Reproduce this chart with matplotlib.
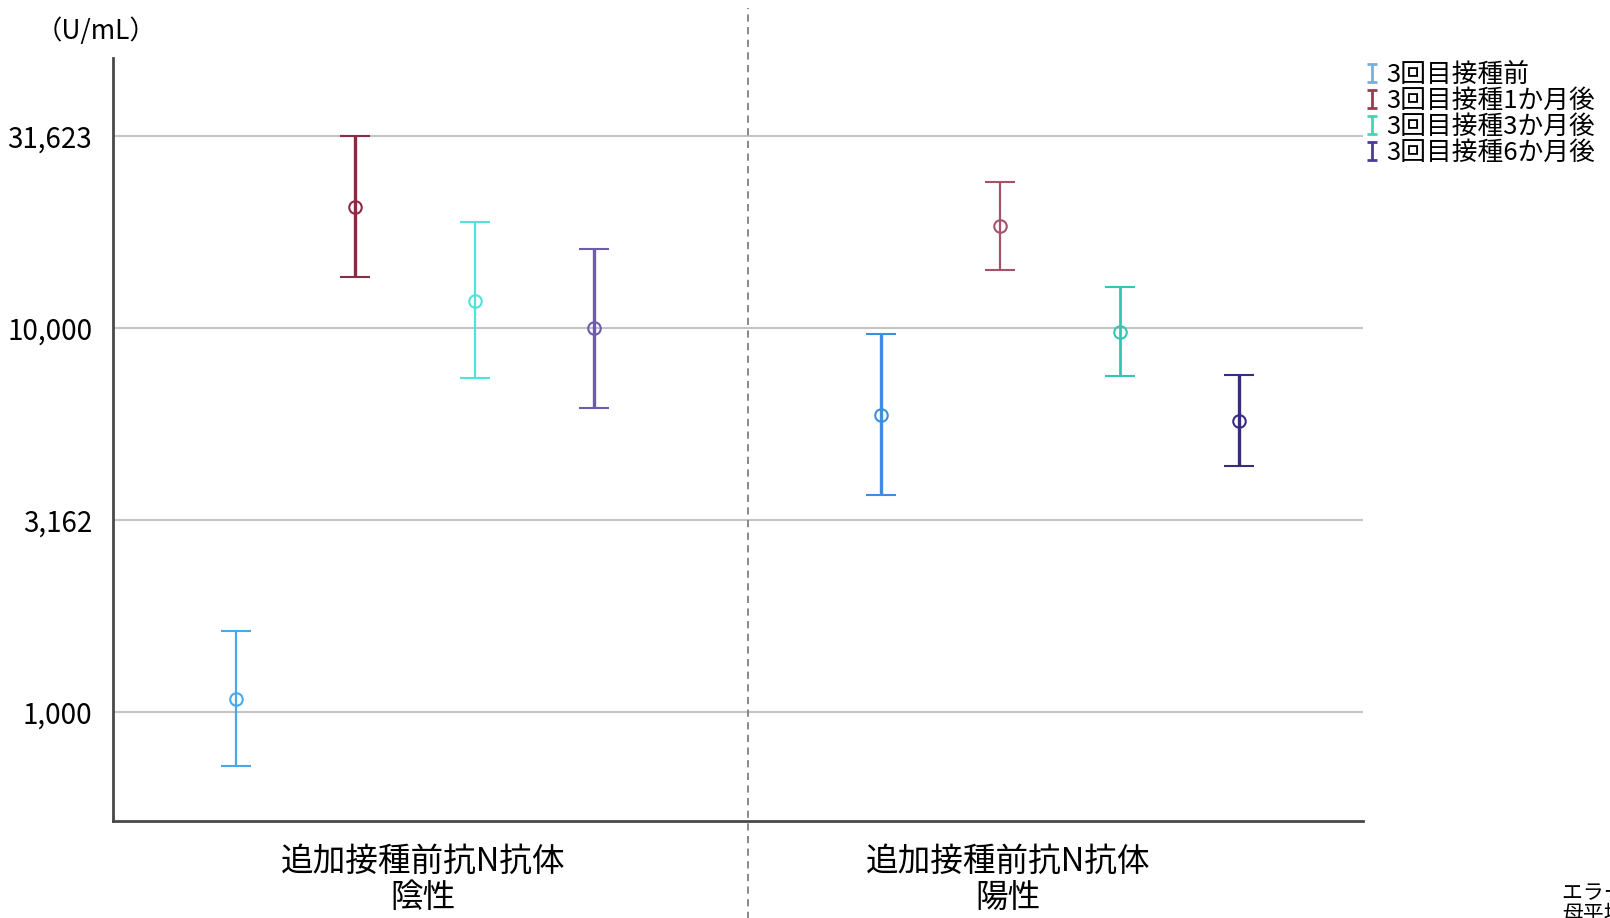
import matplotlib.pyplot as plt
from matplotlib.path import Path
from matplotlib.lines import Line2D
from matplotlib.ticker import FixedLocator, NullLocator

plt.rcParams['font.family'] = ['Noto Sans CJK JP', 'DejaVu Sans']

series = ['3回目接種前', '3回目接種1か月後', '3回目接種3か月後', '3回目接種6か月後']
groups = ['追加接種前抗N抗体\n陰性', '追加接種前抗N抗体\n陽性']

# estimated means and 95% CI bounds (U/mL)
mean_neg = [1080, 20700, 11760, 10000]
low_neg = [722, 13600, 7400, 6180]
high_neg = [1627, 31623, 18900, 16080]

mean_pos = [5930, 18450, 9760, 5720]
low_pos = [3665, 14170, 7500, 4365]
high_pos = [9650, 24050, 12800, 7540]

yticks = [1000, 3162, 10000, 31623]
ytick_labels = ['1,000', '3,162', '10,000', '31,623']

colors_neg = ['#4aa8ea', '#8a2c46', '#52e2da', '#6d5cae']
colors_pos = ['#3c8fe0', '#a4546a', '#2fc8b2', '#3a2a82']
lw_neg = [1.6, 2.4, 1.6, 2.4]
lw_pos = [2.4, 1.6, 2.0, 2.4]
legend_colors = ['#6fb2e2', '#9c3a50', '#45d4b4', '#4a3c9c']

offsets = [-0.2775, -0.0925, 0.0925, 0.2775]

fig = plt.figure(figsize=(16.1, 9.18), dpi=100)
ax = fig.add_axes([0.0702, 0.1057, 0.7764, 0.8311])

for gi, (m, lo, hi, cols, lws) in enumerate([
        (mean_neg, low_neg, high_neg, colors_neg, lw_neg),
        (mean_pos, low_pos, high_pos, colors_pos, lw_pos)]):
    for i in range(4):
        x = gi + offsets[i]
        ax.errorbar([x], [m[i]], yerr=[[m[i] - lo[i]], [hi[i] - m[i]]],
                    fmt='o', mfc='none', mec=cols[i], ms=9, mew=1.5,
                    ecolor=cols[i], elinewidth=lws[i], capsize=11,
                    capthick=lws[i], zorder=3)

ax.set_yscale('log')
ax.set_ylim(520, 50450)
ax.set_xlim(-0.468, 1.470)
ax.yaxis.set_major_locator(FixedLocator(yticks))
ax.yaxis.set_minor_locator(NullLocator())
ax.set_yticklabels(ytick_labels, fontsize=20)
ax.grid(axis='y', color='#c4c4c4', linewidth=1.5)
ax.set_axisbelow(True)
ax.tick_params(axis='y', length=0, pad=15)

ax.set_xticks([0.012, 0.919])
ax.set_xticklabels(groups, fontsize=23.5, linespacing=1.15)
ax.tick_params(axis='x', length=0, pad=18)

for s in ['top', 'right']:
    ax.spines[s].set_visible(False)
for s in ['left', 'bottom']:
    ax.spines[s].set_color('#484848')
    ax.spines[s].set_linewidth(2)

ax.axvline(0.516, ymin=-0.13, ymax=1.065, clip_on=False, color='#808080',
           linestyle=(0, (4, 3)), linewidth=1.3)

fig.text(36 / 1610, 1 - 31 / 918, '（U/mL）', fontsize=19, va='center', ha='left')

ibeam = Path([(-0.5, 1), (0.5, 1), (0, 1), (0, -1), (-0.5, -1), (0.5, -1)],
             [Path.MOVETO, Path.LINETO, Path.MOVETO, Path.LINETO, Path.MOVETO, Path.LINETO])
handles = [Line2D([], [], linestyle='none', marker=ibeam, markersize=13,
                  mec=c, mfc='none', mew=2) for c in legend_colors]
fig.legend(handles, series, loc='upper left', bbox_to_anchor=(1366 / 1610, 1 - 62 / 918),
           frameon=False, fontsize=18.5, handlelength=0.5, handletextpad=0.3,
           labelspacing=0.0, borderpad=0, borderaxespad=0)

fig.text(1562 / 1610, 1 - 893 / 918, 'エラーバー: 95% 信頼区間', fontsize=15, va='center', ha='left')
fig.text(1562 / 1610, 1 - 914 / 918, '母平均の推定値', fontsize=15, va='center', ha='left')

fig.savefig('out.png', dpi=100)
